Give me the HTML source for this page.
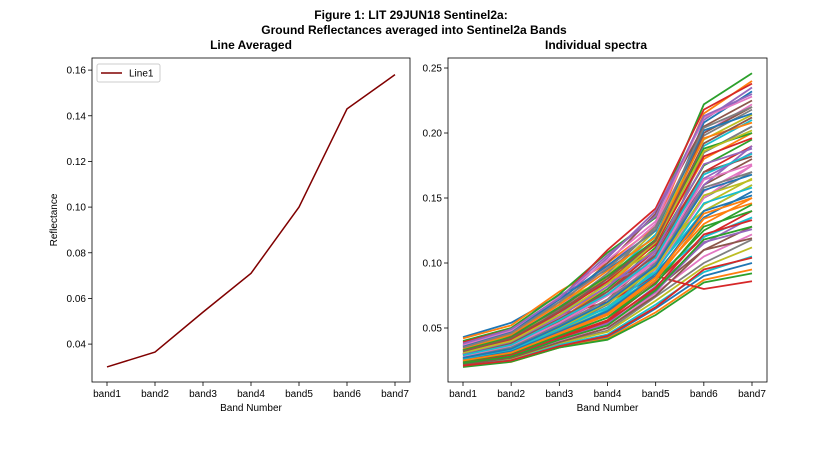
<!DOCTYPE html>
<html><head><meta charset="utf-8"><style>
body{margin:0;background:#fff;font-family:"Liberation Sans",sans-serif}
svg text{font-family:"Liberation Sans",sans-serif}
</style></head><body>
<svg id="fig" width="828" height="468" xmlns="http://www.w3.org/2000/svg">
<rect width="828" height="468" fill="#fff"/>
<text x="411" y="19" text-anchor="middle" font-size="12" font-weight="bold">Figure 1: LIT 29JUN18  Sentinel2a:</text>
<text x="414" y="34" text-anchor="middle" font-size="12" font-weight="bold">Ground Reflectances averaged into Sentinel2a Bands</text>
<text x="251" y="49" text-anchor="middle" font-size="12" font-weight="bold">Line Averaged</text>
<text x="596" y="49" text-anchor="middle" font-size="12" font-weight="bold">Individual spectra</text>
<g id="left"></g><g id="right"></g>
</svg>
<script>
const bands=["band1","band2","band3","band4","band5","band6","band7"];
const avgValues=[0.030,0.0365,0.054,0.071,0.100,0.143,0.158];
const leftTicks=[0.04,0.06,0.08,0.10,0.12,0.14,0.16];
const leftTickLabels=["0.04","0.06","0.08","0.10","0.12","0.14","0.16"];
const rightTicks=[0.05,0.10,0.15,0.20,0.25];
const rightTickLabels=["0.05","0.10","0.15","0.20","0.25"];
const spectra=[
[.043,.054,.075,.095,.120,.208,.232],[.042,.052,.078,.100,.128,.215,.240],
[.040,.050,.076,.108,.135,.222,.246],[.039,.049,.072,.110,.142,.218,.238],
[.038,.048,.070,.104,.140,.210,.235],[.037,.047,.068,.100,.138,.205,.225],
[.036,.046,.066,.097,.130,.200,.222],[.035,.045,.064,.092,.128,.198,.218],
[.034,.044,.062,.090,.125,.195,.214],[.033,.043,.060,.088,.122,.190,.210],
[.032,.042,.058,.085,.118,.185,.205],[.031,.041,.056,.082,.115,.180,.200],
[.030,.040,.055,.080,.112,.175,.195],[.030,.039,.054,.078,.110,.170,.190],
[.029,.038,.053,.075,.108,.165,.185],[.029,.037,.052,.072,.105,.160,.180],
[.028,.036,.050,.070,.102,.155,.175],[.028,.035,.049,.068,.100,.150,.170],
[.027,.034,.048,.066,.097,.145,.165],[.027,.033,.047,.064,.095,.140,.160],
[.026,.032,.046,.062,.092,.135,.155],[.026,.031,.045,.060,.090,.130,.150],
[.025,.030,.044,.058,.087,.125,.145],[.025,.030,.043,.056,.085,.120,.140],
[.024,.029,.042,.054,.082,.115,.135],[.024,.028,.041,.052,.080,.110,.128],
[.023,.027,.040,.050,.077,.105,.122],[.023,.027,.039,.048,.074,.100,.118],
[.022,.026,.038,.047,.071,.097,.112],[.022,.025,.037,.045,.068,.093,.105],
[.021,.025,.036,.043,.065,.090,.100],[.021,.024,.035,.042,.062,.087,.095],
[.020,.024,.035,.041,.060,.085,.092],[.030,.040,.060,.070,.090,.080,.086],
[.035,.046,.070,.085,.100,.160,.190],[.033,.044,.065,.090,.115,.200,.220],
[.028,.038,.058,.075,.095,.150,.175],[.025,.032,.048,.062,.100,.185,.205],
[.032,.045,.070,.088,.110,.140,.160],[.027,.035,.052,.065,.090,.120,.135],
[.036,.047,.072,.098,.125,.202,.215],[.034,.045,.068,.094,.120,.196,.208],
[.033,.043,.066,.090,.118,.188,.200],[.031,.041,.062,.086,.114,.182,.196],
[.030,.039,.059,.082,.110,.176,.188],[.029,.038,.057,.078,.106,.170,.182],
[.028,.036,.054,.075,.102,.164,.176],[.027,.035,.052,.072,.099,.158,.170],
[.026,.034,.050,.069,.096,.152,.164],[.026,.033,.049,.066,.093,.146,.158],
[.025,.032,.047,.063,.090,.140,.152],[.024,.031,.045,.060,.087,.134,.146],
[.024,.030,.044,.058,.084,.128,.140],[.023,.029,.042,.055,.081,.122,.133],
[.022,.028,.041,.053,.078,.116,.126],[.022,.027,.039,.050,.075,.110,.119],
[.037,.048,.074,.102,.132,.212,.228],[.035,.046,.070,.096,.126,.204,.220],
[.031,.040,.060,.084,.116,.186,.202],[.029,.037,.056,.076,.104,.168,.184],
[.027,.034,.051,.070,.098,.156,.168],[.025,.031,.046,.061,.089,.138,.150],
[.023,.028,.041,.052,.079,.118,.128],[.021,.025,.036,.044,.066,.095,.104],
[.038,.049,.073,.106,.136,.213,.230],[.032,.042,.063,.088,.117,.192,.212]
];
const colors=["#1f77b4","#ff7f0e","#2ca02c","#d62728","#9467bd","#8c564b","#e377c2","#7f7f7f","#bcbd22","#17becf"];
const NS="http://www.w3.org/2000/svg";
function mk(parent,tag,attrs){const e=document.createElementNS(NS,tag);for(const k in attrs)e.setAttribute(k,attrs[k]);parent.appendChild(e);return e;}
function axes(g,x0,x1,y0,y1,vmin,vmax,ticks,labels,xName){
  const xs=i=>x0+15+i*(x1-x0-30)/(bands.length-1);
  const ys=v=>y1-(v-vmin)/(vmax-vmin)*(y1-y0);
  return {xs,ys,draw(){
    const f=mk(g,"rect",{x:x0,y:y0,width:x1-x0,height:y1-y0,fill:"none",stroke:"#000","stroke-width":0.8});
    
    
    bands.forEach((b,i)=>{
      mk(g,"line",{x1:xs(i),x2:xs(i),y1:y1,y2:y1+4,stroke:"#000","stroke-width":0.8});
      const t=mk(g,"text",{x:xs(i),y:y1+15,"text-anchor":"middle","font-size":10});t.textContent=b;
      
      
    });
    ticks.forEach((v,i)=>{
      mk(g,"line",{x1:x0-4,x2:x0,y1:ys(v),y2:ys(v),stroke:"#000","stroke-width":0.8});
      const t=mk(g,"text",{x:x0-6,y:ys(v)+3.5,"text-anchor":"end","font-size":10});t.textContent=labels[i];
      
      
    });
    const xl=mk(g,"text",{x:(x0+x1)/2,y:y1+29,"text-anchor":"middle","font-size":10});xl.textContent="Band Number";
    
    
  }};
}
const L=document.getElementById("left"),R=document.getElementById("right");
const la=axes(L,92,410,58,382,0.0234,0.1653,leftTicks,leftTickLabels,"left");
la.draw();
const yl=mk(L,"text",{x:57,y:220,"text-anchor":"middle","font-size":10,transform:"rotate(-90 57 220)"});yl.textContent="Reflectance";


const lp=mk(L,"polyline",{points:avgValues.map((v,i)=>la.xs(i)+","+la.ys(v)).join(" "),fill:"none",stroke:"#800000","stroke-width":1.5});


const lg=mk(L,"rect",{x:97,y:64,width:63,height:18,fill:"#fff",stroke:"#ccc",rx:2});


mk(L,"line",{x1:101,x2:122,y1:73,y2:73,stroke:"#800000","stroke-width":1.5});
const lt=mk(L,"text",{x:129,y:76.5,"font-size":10});lt.textContent="Line1";


const ra=axes(R,448,767,58,382,0.00846,0.2577,rightTicks,rightTickLabels,"right");
spectra.forEach((s,k)=>{
  const p=mk(R,"polyline",{points:s.map((v,i)=>ra.xs(i)+","+ra.ys(v)).join(" "),fill:"none",stroke:colors[k%colors.length],"stroke-width":1.8});
  
  
});
ra.draw();
</script>
</body></html>
